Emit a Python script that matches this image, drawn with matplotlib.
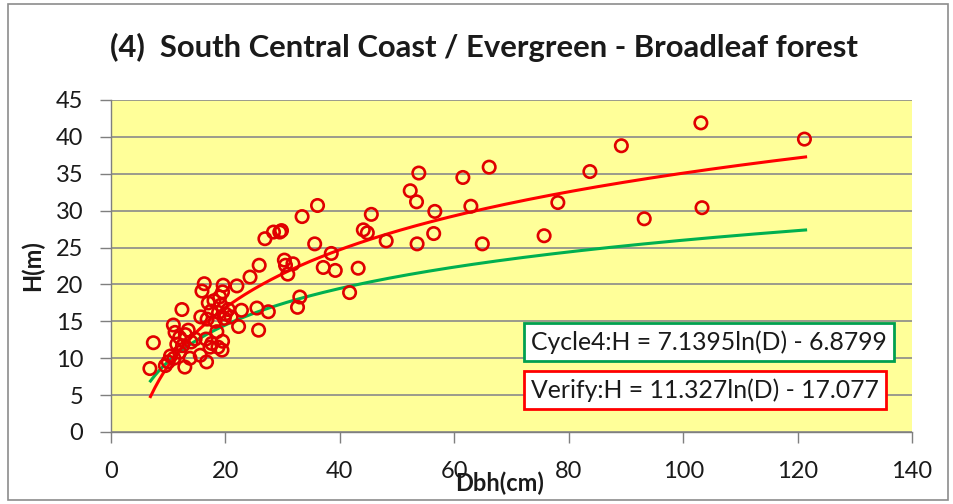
import numpy as np
import matplotlib
matplotlib.use("Agg")
import matplotlib.pyplot as plt
from matplotlib.patches import Rectangle

plt.rcParams['font.family'] = ['Lato', 'DejaVu Sans']

title = "(4)  South Central Coast / Evergreen - Broadleaf forest"
x_label = "Dbh(cm)"
y_label = "H(m)"
x_ticks = [0, 20, 40, 60, 80, 100, 120, 140]
y_ticks = [0, 5, 10, 15, 20, 25, 30, 35, 40, 45]

# observed points (Dbh cm, H m)
dbh = [103.1, 121.2, 89.2, 83.7, 93.2, 103.3,
       66.1, 53.8, 61.5, 52.3, 53.4, 36.1, 78.1, 33.4, 56.6, 62.9, 45.5, 29.8,
       44.1, 44.8, 35.6, 48.1, 53.5, 56.4, 64.9, 75.7, 38.5, 37.1, 39.2, 43.2,
       30.3, 30.5, 31.8, 30.9, 41.7, 33.0, 32.6,
       26.9, 28.4, 29.5,
       25.9, 24.3, 16.3, 15.9, 19.6, 22.0, 19.5, 12.4, 22.8, 25.5, 27.5, 25.8,
       22.3, 15.7, 10.9, 7.4, 15.6, 16.7, 13.8, 6.8, 12.9,
       17.0, 18.0, 19.2, 17.5, 18.8, 20.0, 16.8, 18.2, 19.8, 20.5, 19.0, 21.0,
       18.5, 16.6, 17.6, 18.7, 19.4, 17.3, 19.5,
       11.2, 12.0, 13.0, 11.5, 12.5, 14.0, 13.5, 14.7,
       10.0, 10.4, 9.5, 11.0, 12.0]
height = [41.9, 39.7, 38.8, 35.3, 28.9, 30.4,
          35.9, 35.1, 34.5, 32.7, 31.2, 30.7, 31.1, 29.2, 29.9, 30.6, 29.5, 27.3,
          27.4, 27.0, 25.5, 25.9, 25.5, 26.9, 25.5, 26.6, 24.2, 22.3, 21.9, 22.2,
          23.3, 22.6, 22.8, 21.4, 18.9, 18.3, 16.9,
          26.2, 27.1, 27.1,
          22.6, 21.0, 20.1, 19.1, 19.9, 19.8, 19.0, 16.6, 16.5, 16.8, 16.3, 13.8,
          14.3, 15.6, 14.5, 12.1, 10.4, 9.5, 10.0, 8.6, 8.8,
          17.5, 17.8, 17.2, 16.4, 16.2, 16.0, 15.3, 15.0, 15.4, 16.6, 18.3, 15.6,
          13.6, 12.6, 12.0, 11.5, 11.1, 11.5, 12.3,
          13.5, 12.8, 13.2, 11.9, 11.7, 12.2, 13.8, 12.6,
          9.5, 10.3, 9.0, 10.0, 10.8]

# fitted models H = a*ln(D) + b
cycle4_a, cycle4_b = 7.1395, -6.8799
verify_a, verify_b = 11.327, -17.077
d_min, d_max = 6.9, 121.4

fig = plt.figure(figsize=(9.54, 5.04), dpi=100)
fig.patch.set_facecolor('white')
fig.patches.append(Rectangle((8/954, 4/504), 940/954, 496/504, transform=fig.transFigure,
                             fill=False, edgecolor='#8c8c8c', linewidth=1.2))

ax = fig.add_axes([111/954, 1-432/504, (912-111)/954, (432-100)/504])
ax.set_facecolor('#FFFF99')
ax.set_xlim(0, 140)
ax.set_ylim(0, 45)
ax.set_xticks(x_ticks)
ax.set_yticks(y_ticks)
ax.grid(axis='y', color='#8a8a8a', linewidth=1.2)
ax.set_axisbelow(True)
for s in ['top', 'right']:
    ax.spines[s].set_visible(False)
for s in ['left', 'bottom']:
    ax.spines[s].set_color('#7f7f7f')
    ax.spines[s].set_linewidth(1.0)
ax.tick_params(axis='both', direction='out', length=8, width=1.0, color='#7f7f7f',
               labelsize=17, labelcolor='#1a1a1a')
ax.tick_params(axis='y', pad=12)
ax.tick_params(axis='x', pad=13)

d = np.linspace(d_min, d_max, 300)
ax.plot(d, cycle4_a*np.log(d) + cycle4_b, color='#00B050', linewidth=2.2, zorder=3)
ax.plot(d, verify_a*np.log(d) + verify_b, color='#FF0000', linewidth=2.2, zorder=3)
ax.scatter(dbh, height, s=80, facecolors='none', edgecolors='#E00000', linewidths=1.9, zorder=4)

fig.text(484/954, 1-47/504, title, ha='center', va='center', fontsize=22.3, fontweight='bold',
         color='#1a1a1a')
fig.text(500/954, 1-483/504, x_label, ha='center', va='center', fontsize=17, fontweight='bold',
         color='#1a1a1a')
fig.text(32/954, 1-266/504, y_label, ha='center', va='center', fontsize=17, fontweight='bold',
         rotation=90, color='#1a1a1a')

fig.text(531/954, 1-342/504, "Cycle4:H = 7.1395ln(D) - 6.8799", ha='left', va='center',
         fontsize=17.8, color='#1a1a1a',
         bbox=dict(boxstyle='square,pad=0.3', facecolor='white', edgecolor='#00A050', linewidth=2))
fig.text(531/954, 1-390/504, "Verify:H = 11.327ln(D) - 17.077", ha='left', va='center',
         fontsize=17.8, color='#1a1a1a',
         bbox=dict(boxstyle='square,pad=0.3', facecolor='white', edgecolor='#FF0000', linewidth=2))

fig.savefig('out.png', dpi=100)
